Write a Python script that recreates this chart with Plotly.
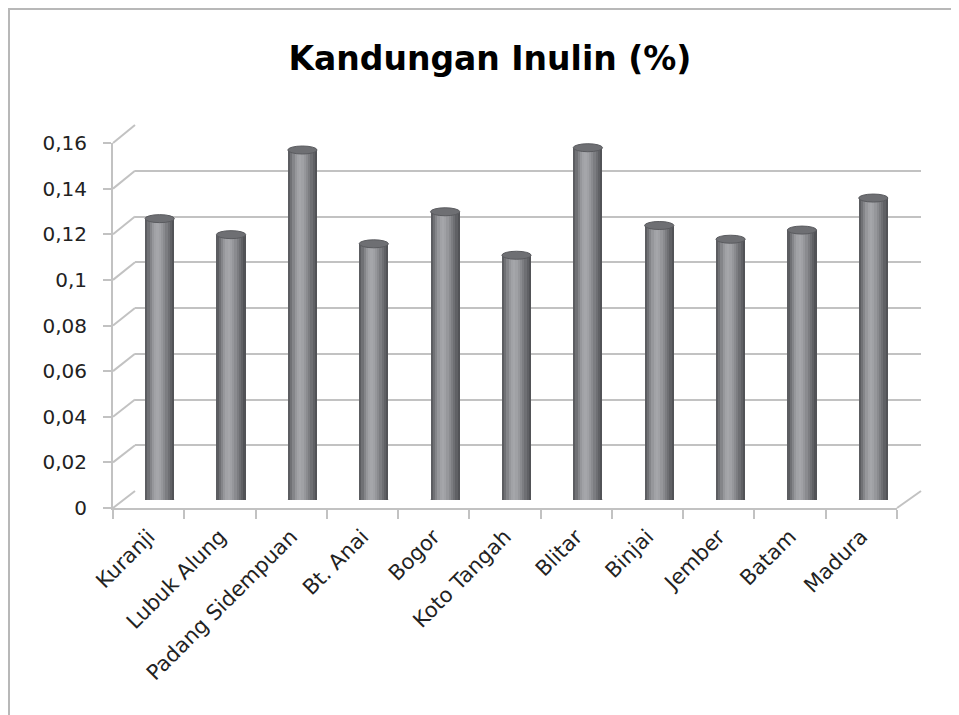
import plotly.graph_objects as go

# data
locations = ["Kuranji", "Lubuk Alung", "Padang Sidempuan", "Bt. Anai", "Bogor",
             "Koto Tangah", "Blitar", "Binjai", "Jember", "Batam", "Madura"]
inulin = [0.123, 0.116, 0.153, 0.112, 0.126, 0.107, 0.154, 0.120, 0.114, 0.118, 0.132]
tick_vals = [0, 0.02, 0.04, 0.06, 0.08, 0.10, 0.12, 0.14, 0.16]
tick_text = ["0", "0,02", "0,04", "0,06", "0,08", "0,1", "0,12", "0,14", "0,16"]

W, H = 959, 715
OFF = 8  # page body margin, so layout is given in screen pixels
YMAX = 0.16
GRID = "#c2c2c2"
FONT = "DejaVu Sans"


def px(p):
    return (p - OFF) / W


def py(p):
    return 1 - (p - OFF) / H


# the three planes of the fake 3D box: back wall, front edge, bar mid-depth
BACK = dict(x=(135, 921), y0=491, ytop=125)
FRONT = dict(x=(113, 897), y0=508, ytop=143)
MID = dict(x=(124, 909), y0=500, ytop=134)

fig = go.Figure()

# invisible traces so the back wall and front axes get drawn
fig.add_trace(go.Scatter(x=[0.5], y=[0], mode="markers", marker=dict(opacity=0),
                         hoverinfo="skip", showlegend=False, xaxis="x", yaxis="y"))
fig.add_trace(go.Scatter(x=locations, y=[0] * len(locations), mode="markers",
                         marker=dict(opacity=0), hoverinfo="skip", showlegend=False,
                         xaxis="x2", yaxis="y2"))

# cylinder shading: overlapping thin strips, dark edges, highlight left of centre
bar_w = 0.41
shade = [92, 112, 132, 150, 161, 165, 160, 150, 138, 124, 110, 96, 82]
n = len(shade)
step = bar_w / n
for k, v in enumerate(shade):
    fig.add_trace(go.Bar(
        x=locations, y=inulin,
        width=step * 1.6 if k < n - 1 else step,
        offset=-bar_w / 2 + k * step,
        marker=dict(color=f"rgb({v},{v + 1},{v + 5})", line=dict(width=0)),
        hovertemplate="%{x}: %{y}<extra></extra>",
        showlegend=False,
        xaxis="x3", yaxis="y3",
    ))

shapes = []
# bar caps and rounded bottoms
for i, v in enumerate(inulin):
    shapes.append(dict(type="circle", xref="x3", yref="y3", ysizemode="pixel", yanchor=v,
                       x0=i - bar_w / 2, x1=i + bar_w / 2, y0=-4, y1=4,
                       fillcolor="#6e6f73", line=dict(color="#5a5b5f", width=1), layer="above"))
    shapes.append(dict(type="circle", xref="x3", yref="y3", ysizemode="pixel", yanchor=0,
                       x0=i - bar_w / 2, x1=i + bar_w / 2, y0=-4, y1=4,
                       fillcolor="#8a8b8f", line=dict(width=0), layer="below"))

# side wall connectors from front ticks to back gridlines
for t in tick_vals:
    yf = FRONT["y0"] - t / YMAX * (FRONT["y0"] - FRONT["ytop"])
    yb = BACK["y0"] - t / YMAX * (BACK["y0"] - BACK["ytop"])
    shapes.append(dict(type="line", xref="paper", yref="paper",
                       x0=px(FRONT["x"][0]), y0=py(yf), x1=px(BACK["x"][0]), y1=py(yb),
                       line=dict(color=GRID, width=2), layer="below"))
# right edge of the floor
shapes.append(dict(type="line", xref="paper", yref="paper",
                   x0=px(FRONT["x"][1]), y0=py(FRONT["y0"]), x1=px(BACK["x"][1]), y1=py(BACK["y0"]),
                   line=dict(color=GRID, width=2), layer="below"))
# chart frame (left and top only)
shapes.append(dict(type="line", xref="paper", yref="paper", x0=px(9), y0=py(8), x1=px(9), y1=0,
                   line=dict(color="#b8b8b8", width=2)))
shapes.append(dict(type="line", xref="paper", yref="paper", x0=px(8), y0=py(9), x1=1, y1=py(9),
                   line=dict(color="#b8b8b8", width=2)))


def ydom(plane):
    return [py(plane["y0"]), py(plane["ytop"])]


def xdom(plane):
    return [px(plane["x"][0]), px(plane["x"][1])]


fig.update_layout(
    width=W, height=H,
    margin=dict(l=0, r=0, t=0, b=0, autoexpand=False),
    paper_bgcolor="white", plot_bgcolor="rgba(0,0,0,0)",
    barmode="overlay", bargap=0,
    separators=",.",
    font=dict(family=FONT, color="#222222"),
    title=dict(text="<b>Kandungan Inulin (%)</b>", x=px(490), xanchor="center",
               y=py(58), yanchor="middle", font=dict(family=FONT, size=33, color="black")),
    # back wall gridlines
    xaxis=dict(domain=xdom(BACK), range=[0, 1], showgrid=False, zeroline=False,
               showticklabels=False, ticks="", showline=False, anchor="y"),
    yaxis=dict(domain=ydom(BACK), range=[0, YMAX], anchor="x", tickvals=tick_vals,
               showgrid=True, gridcolor=GRID, gridwidth=2, zeroline=False,
               showticklabels=False, ticks="", showline=False),
    # front axes with labels
    xaxis2=dict(domain=xdom(FRONT), anchor="y2", type="category", range=[-0.5, len(locations) - 0.5],
                showline=True, linecolor=GRID, linewidth=2, ticks="outside", tickson="boundaries",
                ticklen=9, tickcolor=GRID, tickwidth=2, tickangle=-45, showgrid=False,
                ticklabelstandoff=6, tickfont=dict(size=21, color="#222222")),
    yaxis2=dict(domain=ydom(FRONT), anchor="x2", range=[0, YMAX], tickvals=tick_vals, ticktext=tick_text,
                showline=True, linecolor=GRID, linewidth=2, ticks="outside", ticklen=8,
                tickcolor=GRID, tickwidth=2, showgrid=False, zeroline=False,
                ticklabelstandoff=12, tickfont=dict(size=20, color="#222222")),
    # bars at mid depth
    xaxis3=dict(domain=xdom(MID), anchor="y3", type="category", range=[-0.5, len(locations) - 0.5],
                visible=False),
    yaxis3=dict(domain=ydom(MID), anchor="x3", range=[0, YMAX], visible=False),
    shapes=shapes,
)

fig.write_html("out.html")
